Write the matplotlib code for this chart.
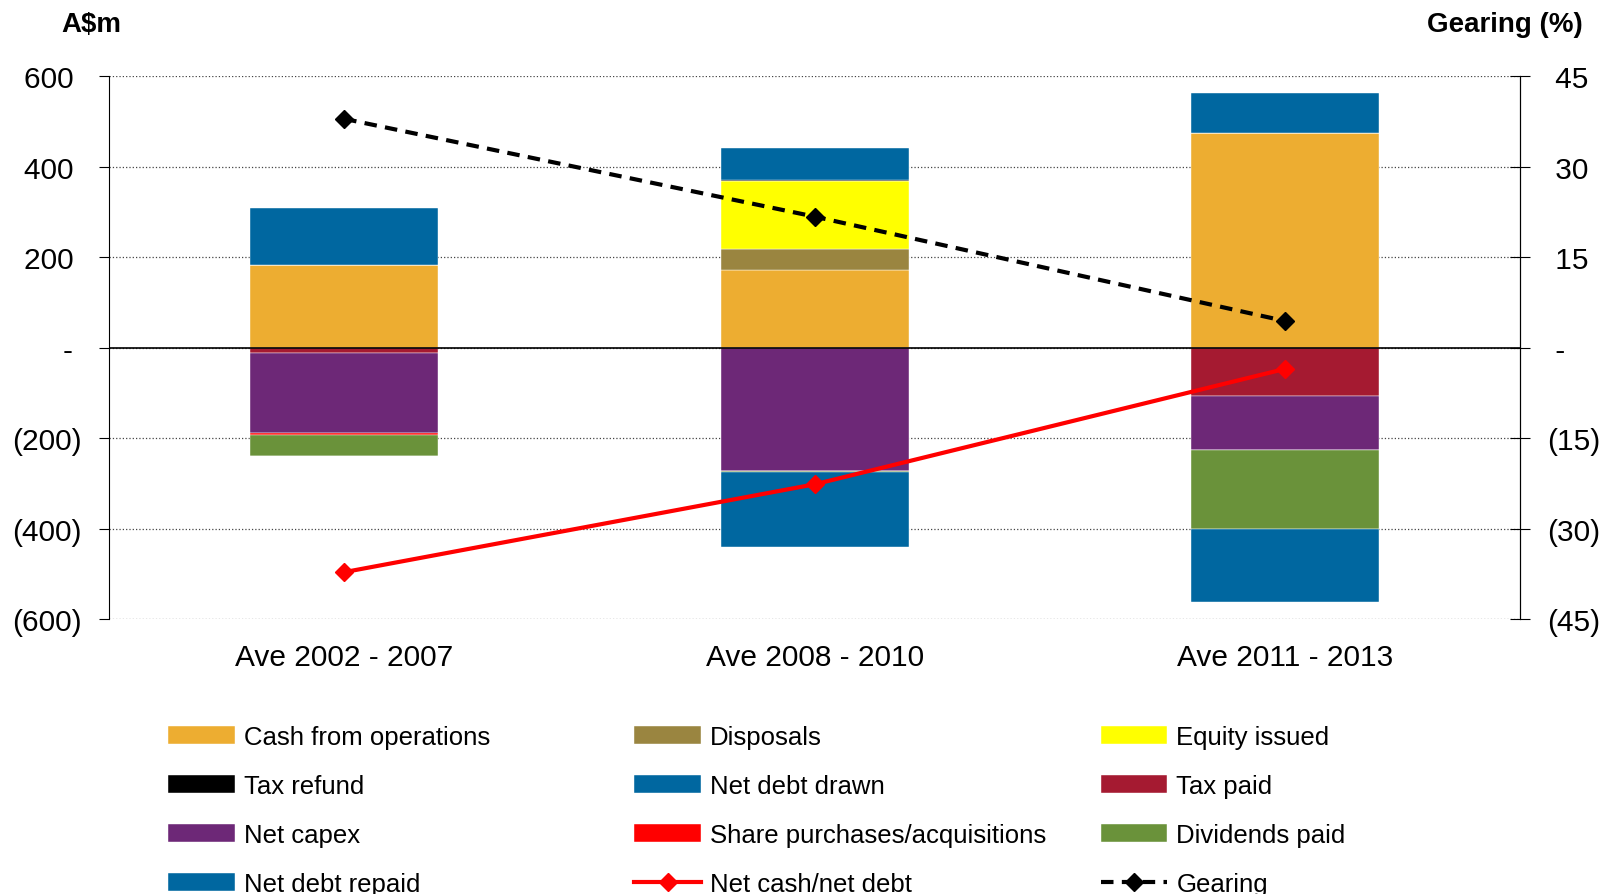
import numpy as np
import matplotlib.pyplot as plt
from matplotlib.ticker import FuncFormatter

plt.rcParams['font.family'] = ['Liberation Sans', 'DejaVu Sans']

# -----------------------------
# Data (A$m, averages per period)
# -----------------------------
periods = ["Ave 2002 - 2007", "Ave 2008 - 2010", "Ave 2011 - 2013"]

# sources of cash
cash_from_operations = [182, 171, 475]
disposals = [0, 46, 0]
equity_issued = [0, 151, 0]
tax_refund = [0, 2, 0]
net_debt_drawn = [126, 70, 88]

# uses of cash
tax_paid = [-13, 0, -106]
net_capex = [-175, -272, -121]
share_purchases = [-6, 0, 0]
dividends_paid = [-45, -3, -173]
net_debt_repaid = [0, -166, -163]

# lines
net_cash_debt = [-496, -302, -47]   # A$m, left axis
gearing = [37.9, 21.7, 4.4]         # %, right axis

# -----------------------------
# Styling
# -----------------------------
pos_series = [
    ("Cash from operations", cash_from_operations, "#EDAD31"),
    ("Disposals", disposals, "#9A8540"),
    ("Equity issued", equity_issued, "#FFFF00"),
    ("Tax refund", tax_refund, "#000000"),
    ("Net debt drawn", net_debt_drawn, "#0067A0"),
]
neg_series = [
    ("Tax paid", tax_paid, "#A51A31"),
    ("Net capex", net_capex, "#6D2877"),
    ("Share purchases/acquisitions", share_purchases, "#FF0000"),
    ("Dividends paid", dividends_paid, "#6A923A"),
    ("Net debt repaid", net_debt_repaid, "#0067A0"),
]

FS = 21.5     # axis labels
FS_LEG = 18.5
FS_HEAD = 20

fig = plt.figure(figsize=(16.02, 8.95), dpi=100)
ax = fig.add_axes([0.068, 0.307, 0.881, 0.607])
x = np.arange(len(periods))
width = 0.40

handles = {}
bottom = np.zeros(len(periods))
for name, vals, col in pos_series:
    vals = np.array(vals, dtype=float)
    b = ax.bar(x, vals, width, bottom=bottom, color=col,
               edgecolor="white", linewidth=0.3, zorder=2)
    handles[name] = b
    bottom += vals

bottom = np.zeros(len(periods))
for name, vals, col in neg_series:
    vals = np.array(vals, dtype=float)
    b = ax.bar(x, vals, width, bottom=bottom, color=col,
               edgecolor="white", linewidth=0.3, zorder=2)
    handles[name] = b
    bottom += vals

l1, = ax.plot(x, net_cash_debt, color="#FF0000", lw=3, marker="D",
              markersize=9, zorder=4)
handles["Net cash/net debt"] = l1

ax.set_xlim(-0.5, 2.5)
ax.set_ylim(-600, 600)
ax.set_yticks(range(-600, 601, 200))


# accounting style: negatives in brackets, positives padded to line up
def left_fmt(v, pos):
    if abs(v) < 1e-9:
        return "- "
    if v < 0:
        return "({:.0f})".format(-v)
    return "{:.0f} ".format(v)


def right_fmt(v, pos):
    if abs(v) < 1e-9:
        return " -"
    if v < 0:
        return "({:.0f})".format(-v)
    return " {:.0f}".format(v)


ax.yaxis.set_major_formatter(FuncFormatter(left_fmt))
ax.set_xticks(x)
ax.set_xticklabels(periods)
ax.tick_params(axis="x", length=0, labelsize=FS, pad=17)
ax.tick_params(axis="y", direction="out", length=7, labelsize=FS, pad=12.7)

ax.grid(axis="y", linestyle=":", color="#444444", linewidth=0.9, zorder=0)
ax.set_axisbelow(True)
ax.axhline(0, color="black", lw=1.2, zorder=3)
for s in ["top", "bottom"]:
    ax.spines[s].set_visible(False)
ax.spines["left"].set_color("black")

ax2 = ax.twinx()
l2, = ax2.plot(x, gearing, color="black", lw=3, ls=(0, (3, 2)), marker="D",
               markersize=9, zorder=4)
handles["Gearing"] = l2
ax2.set_ylim(-45, 45)
ax2.set_yticks(range(-45, 46, 15))
ax2.yaxis.set_major_formatter(FuncFormatter(right_fmt))
ax2.tick_params(axis="y", direction="inout", length=14, labelsize=FS, pad=12)
for s in ["top", "bottom", "left"]:
    ax2.spines[s].set_visible(False)

fig.text(0.057, 0.972, "A$m", fontsize=FS_HEAD, fontweight="bold",
         ha="center", va="center")
fig.text(0.988, 0.972, "Gearing (%)", fontsize=FS_HEAD, fontweight="bold",
         ha="right", va="center")

# -----------------------------
# Legend: 3 columns, row-wise order
# -----------------------------
columns = [
    ["Cash from operations", "Tax refund", "Net capex", "Net debt repaid"],
    ["Disposals", "Net debt drawn", "Share purchases/acquisitions",
     "Net cash/net debt"],
    ["Equity issued", "Tax paid", "Dividends paid", "Gearing"],
]
col_x = [0.105, 0.396, 0.687]
for cx, names in zip(col_x, columns):
    leg = fig.legend([handles[n] for n in names], names,
                     loc="upper left", bbox_to_anchor=(cx, 0.189),
                     frameon=False, fontsize=FS_LEG, handlelength=2.6,
                     handletextpad=0.35, labelspacing=0.97,
                     borderpad=0, borderaxespad=0)

fig.savefig("out.png", dpi=100)
